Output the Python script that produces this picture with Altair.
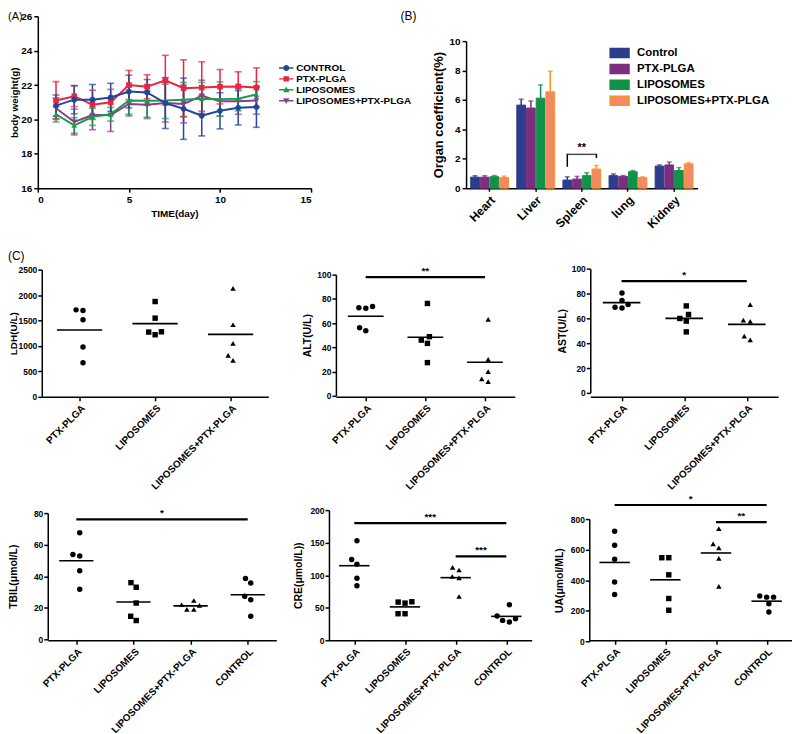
import json
import math
import altair as alt
import pandas as pd

FONT = "Liberation Sans"

# ---------------- Panel A: body weight over time ----------------
DAYS = list(range(1, 13))
SERIES_A = ["CONTROL", "PTX-PLGA", "LIPOSOMES", "LIPOSOMES+PTX-PLGA"]
COLORS_A = ["#24469a", "#e8263f", "#1b9a4b", "#8a3d8c"]
CONTROL_MEAN = [20.8, 21.15, 21.15, 21.28, 21.62, 21.57, 20.95, 20.62, 20.22, 20.5, 20.68, 20.72]
CONTROL_SD = [0.62, 0.82, 0.88, 0.82, 0.95, 0.75, 1.48, 1.78, 1.18, 1.05, 1.0, 1.18]
PTX_MEAN = [21.1, 21.35, 20.85, 21.0, 22.0, 21.9, 22.28, 21.82, 21.85, 21.9, 21.92, 21.85]
PTX_SD = [1.1, 0.6, 0.85, 0.75, 0.85, 0.7, 1.45, 1.65, 1.5, 1.0, 0.85, 1.15]
LIPO_MEAN = [20.3, 19.65, 20.15, 20.3, 21.1, 21.08, 21.1, 21.15, 21.2, 21.18, 21.2, 21.45]
LIPO_SD = [0.45, 0.45, 0.5, 0.4, 0.8, 0.95, 1.05, 1.0, 0.95, 1.0, 0.7, 0.75]
LP_MEAN = [20.65, 19.85, 20.25, 20.25, 20.9, 20.85, 20.95, 20.9, 21.38, 21.05, 21.05, 21.1]
LP_SD = [0.6, 0.75, 0.85, 0.95, 0.7, 0.8, 1.1, 1.1, 0.9, 0.85, 0.75, 0.8]

# ---------------- Panel B: organ coefficients ----------------
ORGANS = ["Heart", "Liver", "Spleen", "lung", "Kidney"]
GROUPS_B = ["Control", "PTX-PLGA", "LIPOSOMES", "LIPOSOMES+PTX-PLGA"]
FILL_B = ["#2b3d8c", "#7d2f7f", "#12914a", "#f3896c"]
STROKE_B = ["#2b3d8c", "#7d2f7f", "#12914a", "#f7931e"]
B_CONTROL = [0.75, 5.65, 0.55, 0.85, 1.5]
B_CONTROL_SD = [0.1, 0.4, 0.22, 0.12, 0.08]
B_PTX = [0.75, 5.45, 0.62, 0.8, 1.58]
B_PTX_SD = [0.1, 0.48, 0.18, 0.06, 0.2]
B_LIPO = [0.78, 6.12, 0.85, 1.12, 1.2]
B_LIPO_SD = [0.08, 0.9, 0.2, 0.08, 0.2]
B_LP = [0.72, 6.55, 1.3, 0.72, 1.65]
B_LP_SD = [0.1, 1.4, 0.25, 0.05, 0.08]
B_BRACKET_LEGS = [1.45, 2.05]
B_BRACKET_TOP = 2.3

# ---------------- Panel C: serum biochemistry ----------------
G3 = ["PTX-PLGA", "LIPOSOMES", "LIPOSOMES+PTX-PLGA"]
G4 = ["PTX-PLGA", "LIPOSOMES", "LIPOSOMES+PTX-PLGA", "CONTROL"]
LDH = [[1710, 1697, 1514, 979, 672], [1873, 1547, 1279, 1221, 1273], [2134, 1417, 1051, 816, 718]]
ALT_V = [[72.6, 72.3, 73.7, 56.2, 53.7], [76.2, 48.8, 46.0, 43.3, 27.4], [63.0, 30.1, 20.0, 14.0, 11.8]]
AST = [[80.4, 74.3, 71.1, 68.4, 69.0], [70.0, 63.1, 59.9, 57.8, 49.1], [71.1, 58.6, 57.6, 45.6, 42.7]]
TBIL = [[67.5, 53.7, 52.8, 43.4, 31.7], [35.9, 33.0, 23.0, 14.6, 11.9],
        [24.6, 21.5, 21.9, 19.0, 19.0], [38.6, 35.7, 27.3, 25.1, 14.6]]
CRE = [[153, 124, 117, 95.4, 83.7], [58.7, 57.1, 59.2, 40.8, 40.8],
       [112, 108, 98, 96, 67.3], [54.6, 37.2, 33.2, 28.1, 30.6]]
UA = [[720, 629, 537, 388, 306], [547, 547, 435, 280, 203],
      [737, 612, 638, 543, 360], [289, 297, 289, 246, 192]]
# significance bars: (from group index, to group index, level, label)
SIG_ALT = [(0, 2, 98, "**")]
SIG_AST = [(0, 2, 90, "*")]
SIG_TBIL = [(0, 3, 76, "*")]
SIG_CRE = [(0, 3, 180, "***"), (2, 3, 129, "***")]
SIG_UA = [(0, 3, 892, "*"), (2, 3, 780, "**")]

SHAPES = ["circle", "square", "triangle-up", "triangle-down"]
_LINE = "M-2.4,-0.24H2.4V0.24H-2.4Z"
LEG_PATHS = [
    _LINE + "M1,0C1,0.552 0.552,1 0,1C-0.552,1 -1,0.552 -1,0C-1,-0.552 -0.552,-1 0,-1C0.552,-1 1,-0.552 1,0Z",
    _LINE + "M-0.9,-0.9H0.9V0.9H-0.9Z",
    _LINE + "M0,-1.1L1.05,0.8H-1.05Z",
    _LINE + "M0,1.1L-1.05,-0.8H1.05Z",
]

# ---------------- layout: plot-area left edge (page px) and width ----------------
EXT = 30                       # every row reaches this far left of its first group
G0 = 8 + EXT                   # page x of every row's first group
ROW1 = [(38, 275), (469, 233)]
ROW2 = [(42, 228), (338, 180), (594, 189)]
ROW3 = [(48, 230), (331, 204), (593, 204)]


def insets(row):
    out = []
    g = G0
    for left, w in row:
        inset = left - g
        out.append((inset, inset + w))
        g = left + w
    return out


IN1, IN2, IN3 = insets(ROW1), insets(ROW2), insets(ROW3)


def label_layer(text, dx, dy, size=12):
    return alt.Chart(pd.DataFrame({"t": [text]})).mark_text(
        align="left", baseline="top", fontSize=size, font=FONT, color="black"
    ).encode(text="t:N", x=alt.value(dx), y=alt.value(dy))


def swarm(pix, d):
    order = sorted(range(len(pix)), key=lambda i: pix[i])
    placed = []
    xs = [0.0] * len(pix)
    for i in order:
        y = pix[i]
        forb = []
        for px, py in placed:
            dy = abs(py - y)
            if dy < d:
                hw = math.sqrt(d * d - dy * dy)
                forb.append((px - hw, px + hw))
        cands = [0.0] + [a for a, b in forb] + [b for a, b in forb]
        cands = [c for c in cands if all(not (a + 1e-6 < c < b - 1e-6) for a, b in forb)]
        x = min(cands, key=lambda c: (abs(c), c))
        xs[i] = x
        placed.append((x, y))
    shift = (max(xs) + min(xs)) / 2
    return [x - shift for x in xs]


HA = 173
ORIGIN_Y = 13   # page y of the row-1 plot top (frame of the legends)

# ---------------- build panel A ----------------
rowsA = []
series_data = list(zip(SERIES_A, [CONTROL_MEAN, PTX_MEAN, LIPO_MEAN, LP_MEAN],
                       [CONTROL_SD, PTX_SD, LIPO_SD, LP_SD]))
for s, ms, sds in reversed(series_data):
    for d, m, sd in zip(DAYS, ms, sds):
        rowsA.append({"series": s, "day": d, "mean": m, "lo": m - sd, "hi": m + sd})
dfA = pd.DataFrame(rowsA)

xA = alt.Scale(domain=[0, 15], nice=False, zero=False, range=list(IN1[0]))
yA = alt.Scale(domain=[16, 26], nice=False, zero=False)
colA = alt.Scale(domain=SERIES_A, range=COLORS_A)
xaxA = alt.Axis(values=[0, 5, 10, 15], title="TIME(day)", labelFontSize=10, titleFontSize=10,
                titlePadding=5, tickSize=4)
yaxA = alt.Axis(values=list(range(16, 27, 2)), title="body weight(g)", labelFontSize=10,
                titleFontSize=10, titlePadding=1, tickSize=4, offset=-IN1[0][0])
XA = alt.X("day:Q", scale=xA, axis=xaxA)
baseA = alt.Chart(dfA)
errA = baseA.mark_rule(strokeWidth=1.5).encode(
    x=XA, y=alt.Y("lo:Q", scale=yA, axis=yaxA), y2="hi:Q",
    color=alt.Color("series:N", scale=colA, legend=None))
capA = baseA.transform_fold(["lo", "hi"], as_=["k", "cv"]).mark_tick(
    orient="horizontal", size=7, thickness=1.6).encode(
    x=XA, y=alt.Y("cv:Q", scale=yA, axis=yaxA),
    color=alt.Color("series:N", scale=colA, legend=None))
lineA = baseA.mark_line(strokeWidth=2).encode(
    x=XA, y=alt.Y("mean:Q", scale=yA, axis=yaxA),
    color=alt.Color("series:N", scale=colA, legend=None))
ptsA = baseA.mark_point(filled=True, size=32, opacity=1).encode(
    x=XA, y=alt.Y("mean:Q", scale=yA, axis=yaxA),
    color=alt.Color("series:N", scale=colA, legend=None),
    shape=alt.Shape("series:N", scale=alt.Scale(domain=SERIES_A, range=SHAPES), legend=None))
legA_props = dict(orient="none", legendX=287 - 4 - G0, legendY=67 - 7 - ORIGIN_Y, title=None,
                  labelFontSize=10, symbolSize=36, symbolStrokeWidth=0, labelOffset=5,
                  rowPadding=1, padding=0)
legA = baseA.transform_filter("false").mark_point(filled=True, opacity=1).encode(
    x=XA, y=alt.Y("mean:Q", scale=yA, axis=yaxA),
    color=alt.Color("series:N", scale=colA, legend=alt.Legend(**legA_props)),
    shape=alt.Shape("series:N", scale=alt.Scale(domain=SERIES_A, range=LEG_PATHS),
                    legend=alt.Legend(**legA_props)))
panelA = alt.layer(errA, capA, lineA, ptsA, legA, label_layer("(A)", -EXT, -5, 11)).resolve_scale(
    color="independent", shape="independent"
).properties(width=IN1[0][1], height=HA)

# ---------------- build panel B ----------------
rowsB = []
for g, vals, sds in zip(GROUPS_B, [B_CONTROL, B_PTX, B_LIPO, B_LP],
                        [B_CONTROL_SD, B_PTX_SD, B_LIPO_SD, B_LP_SD]):
    for o, v, sd in zip(ORGANS, vals, sds):
        rowsB.append({"organ": o, "group": g, "val": v, "hi": v + sd})
dfB = pd.DataFrame(rowsB)

WB = ROW1[1][1]
B_TOP = 25
PI, PO, PI2 = 0.18, 0.1, 0.1
stepB = WB / (len(ORGANS) - PI + 2 * PO)
bwB = stepB * (1 - PI)
substep = bwB / (len(GROUPS_B) - PI2)
bracket_span = substep * (len(GROUPS_B) - 1)

xB = alt.Scale(domain=ORGANS, paddingInner=PI, paddingOuter=PO, range=list(IN1[1]))
offB = alt.Scale(domain=GROUPS_B, paddingInner=PI2, paddingOuter=0)
yB = alt.Scale(domain=[0, 10], nice=False, range=[HA, B_TOP])
fillB = alt.Scale(domain=GROUPS_B, range=FILL_B)
strokeB = alt.Scale(domain=GROUPS_B, range=STROKE_B)
legB_props = dict(orient="none", legendX=622.5 - 5 - G0, legendY=52 - 8 - ORIGIN_Y, title=None,
                  labelFontSize=11.5, symbolType="M-1.9,-0.9H1.9V0.9H-1.9Z", symbolSize=100,
                  symbolStrokeWidth=1.5, labelOffset=11.5, rowPadding=0, padding=0)
xaxB = alt.Axis(title=None, labelAngle=-45, labelFontSize=12, tickSize=3, labelPadding=3,
                labelOverlap=False)
yaxB = alt.Axis(values=list(range(0, 11, 2)), title="Organ coefficient(%)", labelFontSize=10,
                titleFontSize=13, titlePadding=4, tickSize=4, offset=-IN1[1][0])
XB = alt.X("organ:N", scale=xB, axis=xaxB, sort=ORGANS)
OB = alt.XOffset("group:N", scale=offB, sort=GROUPS_B)
baseB = alt.Chart(dfB)
barsB = baseB.mark_bar(strokeWidth=1).encode(
    x=XB, xOffset=OB, y=alt.Y("val:Q", scale=yB, axis=yaxB),
    fill=alt.Fill("group:N", scale=fillB, legend=alt.Legend(**legB_props)),
    stroke=alt.Stroke("group:N", scale=strokeB, legend=alt.Legend(**legB_props)))
errB = baseB.mark_rule(strokeWidth=1.5).encode(
    x=XB, xOffset=OB, y=alt.Y("val:Q", scale=yB, axis=yaxB), y2="hi:Q",
    stroke=alt.Stroke("group:N", scale=strokeB, legend=None))
capB = baseB.mark_tick(orient="horizontal", size=5, thickness=1.5).encode(
    x=XB, xOffset=OB, y=alt.Y("hi:Q", scale=yB, axis=yaxB),
    color=alt.Color("group:N", scale=strokeB, legend=None))
dfBr = pd.DataFrame({"organ": ["Spleen", "Spleen"], "group": [GROUPS_B[0], GROUPS_B[-1]],
                     "lo": B_BRACKET_LEGS, "hi": [B_BRACKET_TOP, B_BRACKET_TOP]})
legsB = alt.Chart(dfBr).mark_rule(strokeWidth=1.5, color="black").encode(
    x=XB, xOffset=OB, y=alt.Y("lo:Q", scale=yB, axis=yaxB), y2="hi:Q")
dfTop = pd.DataFrame({"organ": ["Spleen"], "y": [B_BRACKET_TOP], "lab": ["**"]})
topB = alt.Chart(dfTop).mark_tick(orient="horizontal", size=bracket_span + 1.5, thickness=1.5,
                                  color="black").encode(
    x=XB, y=alt.Y("y:Q", scale=yB, axis=yaxB))
starB = alt.Chart(dfTop).mark_text(baseline="bottom", dy=-1, fontSize=11, fontWeight="bold",
                                   font=FONT, color="black").encode(
    x=XB, y=alt.Y("y:Q", scale=yB, axis=yaxB), text="lab:N")
panelB = alt.layer(barsB, errB, capB, legsB, topB, starB,
                   label_layer("(B)", 403 - (ROW1[0][0] + ROW1[0][1]), -5)).properties(
    width=IN1[1][1], height=HA)


# ---------------- dot-plot panels ----------------
def dot_panel(ytitle, groups, values, ymax, ystep, xr, height, yrange, sigs, title_pad, extra=None,
              title_size=10.5):
    n = len(groups)
    width = xr[1] - xr[0]
    step = width / n
    ppu = (yrange[0] - yrange[1]) / ymax
    rows = []
    for gi, (g, vals) in enumerate(zip(groups, values)):
        offs = swarm([v * ppu for v in vals], 7.0)
        for v, o in zip(vals, offs):
            rows.append({"grp": g, "idx": gi, "xpos": gi + o / step, "val": v})
    df = pd.DataFrame(rows)
    xs = alt.Scale(domain=[-0.5, n - 0.5], nice=False, zero=False, range=list(xr))
    ys = alt.Scale(domain=[0, ymax], nice=False, zero=True, range=list(yrange))
    xax = alt.Axis(values=list(range(n)), labelExpr=json.dumps(groups) + "[datum.value]",
                   labelAngle=-45, title=None, labelFontSize=10, labelPadding=2, tickSize=4,
                   labelOverlap=False, labelBound=False)
    yax = alt.Axis(values=list(range(0, ymax + 1, ystep)), title=ytitle, labelFontSize=8.5,
                   titleFontSize=title_size, titlePadding=title_pad, tickSize=4, format="d",
                   labelPadding=1, offset=-xr[0])
    pts = alt.Chart(df).mark_point(filled=True, size=30, opacity=1, color="black").encode(
        x=alt.X("xpos:Q", scale=xs, axis=xax),
        y=alt.Y("val:Q", scale=ys, axis=yax),
        shape=alt.Shape("grp:N", scale=alt.Scale(domain=groups, range=SHAPES[:n]), legend=None))
    means = alt.Chart(df).transform_aggregate(m="mean(val)", groupby=["idx"]).transform_calculate(
        a="datum.idx - 0.3", b="datum.idx + 0.3").mark_rule(color="black", strokeWidth=1.6).encode(
        x=alt.X("a:Q", scale=xs, axis=xax), x2="b:Q",
        y=alt.Y("m:Q", scale=ys, axis=yax))
    layers = [pts, means]
    if sigs:
        sdf = pd.DataFrame(sigs, columns=["i1", "i2", "y", "lab"])
        srule = alt.Chart(sdf).mark_rule(color="black", strokeWidth=2.2).encode(
            x=alt.X("i1:Q", scale=xs, axis=xax), x2="i2:Q",
            y=alt.Y("y:Q", scale=ys, axis=yax))
        stext = alt.Chart(sdf).transform_calculate(mid="(datum.i1 + datum.i2) / 2").mark_text(
            baseline="bottom", dy=-1, fontSize=10, fontWeight="bold", font=FONT, color="black").encode(
            x=alt.X("mid:Q", scale=xs, axis=xax),
            y=alt.Y("y:Q", scale=ys, axis=yax), text="lab:N")
        layers += [srule, stext]
    if extra is not None:
        layers.append(extra)
    return alt.layer(*layers).properties(width=xr[1], height=height)


H2, H3 = 129, 131
ldh = dot_panel("LDH(U/L)", G3, LDH, 2500, 500, IN2[0], H2, (129, 1), None, 0,
                label_layer("(C)", -EXT, -18), title_size=10)
alt_p = dot_panel("ALT(U/L)", G3, ALT_V, 100, 20, IN2[1], H2, (128, 6), SIG_ALT, 4)
ast = dot_panel("AST(U/L)", G3, AST, 100, 20, IN2[2], H2, (125, 0), SIG_AST, 4)
tbil = dot_panel("TBIL(μmol/L)", G4, TBIL, 80, 20, IN3[0], H3, (130, 3), SIG_TBIL, 15)
cre = dot_panel("CRE(μmol/L))", G4, CRE, 200, 50, IN3[1], H3, (131, 0), SIG_CRE, 6)
ua = dot_panel("UA(μmol/ML)", G4, UA, 800, 200, IN3[2], H3, (132, 9), SIG_UA, 6)

row1 = alt.hconcat(panelA, panelB, spacing=0, bounds="flush")
row2 = alt.hconcat(ldh, alt_p, ast, spacing=0, bounds="flush")
row3 = alt.hconcat(tbil, cre, ua, spacing=0, bounds="flush")
lower = alt.concat(row2, row3, columns=1, align="none", spacing=2)

chart = alt.concat(row1, lower, columns=1, align="none", spacing=19, padding=0).configure_view(
    stroke=None
).configure_axis(
    domainColor="black", domainWidth=1.5, tickColor="black", tickWidth=1.5,
    labelColor="black", titleColor="black", labelFont=FONT, titleFont=FONT,
    labelFontWeight="bold", titleFontWeight="bold", grid=False
).configure_legend(
    labelFont=FONT, labelFontWeight="bold", labelColor="black"
).configure_text(font=FONT)

chart.save("out.html", embed_options={"renderer": "svg", "actions": False})
